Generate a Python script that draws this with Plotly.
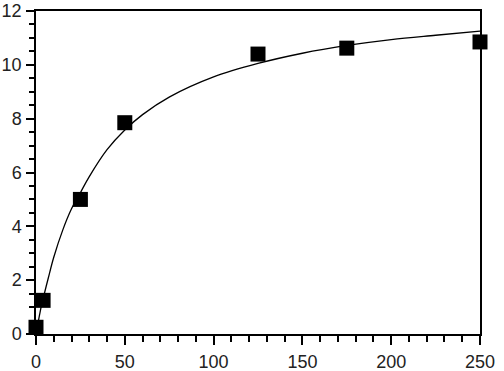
import plotly.graph_objects as go

# measured points
x_data = [0, 4, 25, 50, 125, 175, 250]
y_data = [0.25, 1.25, 5.0, 7.85, 10.4, 10.62, 10.85]

# fitted curve
x_curve = [0, 1, 2, 3, 5, 7, 10, 15, 20, 25, 30, 40, 50, 60, 75, 100, 125, 150, 175, 200, 225, 250]
y_curve = [0.0, 0.37, 0.71, 1.04, 1.58, 2.1, 2.85, 3.85, 4.65, 5.25, 5.85, 6.85, 7.58, 8.15, 8.8, 9.55, 10.05, 10.43, 10.72, 10.94, 11.1, 11.25]

x_ticks = [0, 50, 100, 150, 200, 250]
y_ticks = [0, 2, 4, 6, 8, 10, 12]

fig = go.Figure()
fig.add_trace(go.Scatter(x=x_curve, y=y_curve, mode="lines", line_shape="spline",
                         line=dict(color="black", width=1.3), hoverinfo="skip"))
fig.add_trace(go.Scatter(x=x_data, y=y_data, mode="markers", cliponaxis=False,
                         marker=dict(symbol="square", size=15, color="black")))

font = dict(family="Liberation Sans", size=18, color="#222")
fig.update_xaxes(range=[0, 250], tickvals=x_ticks, ticktext=[str(v) for v in x_ticks],
                 ticks="outside", ticklen=9, tickwidth=1.5, tickcolor="black",
                 minor=dict(dtick=10, ticks="outside", ticklen=6, tickwidth=1.5, tickcolor="black"),
                 showline=True, linecolor="black", linewidth=1.5, mirror=True,
                 showgrid=False, zeroline=False, tickfont=font, automargin=False,
                 ticklabelstandoff=2)
fig.update_yaxes(range=[0, 12], tickvals=y_ticks, ticktext=[str(v) for v in y_ticks],
                 ticks="outside", ticklen=8, tickwidth=1.5, tickcolor="black",
                 minor=dict(dtick=0.5, ticks="outside", ticklen=5, tickwidth=1.5, tickcolor="black"),
                 showline=True, linecolor="black", linewidth=1.5, mirror=True,
                 showgrid=False, zeroline=False, tickfont=font, ticklabelstandoff=1,
                 automargin=False)
fig.update_layout(width=504, height=371, showlegend=False,
                  margin=dict(l=36, r=24, t=11, b=37),
                  plot_bgcolor="white", paper_bgcolor="white")
fig.write_html("out.html", config={"displayModeBar": False},
               post_script="document.body.style.margin='0';document.body.style.overflow='hidden';")
